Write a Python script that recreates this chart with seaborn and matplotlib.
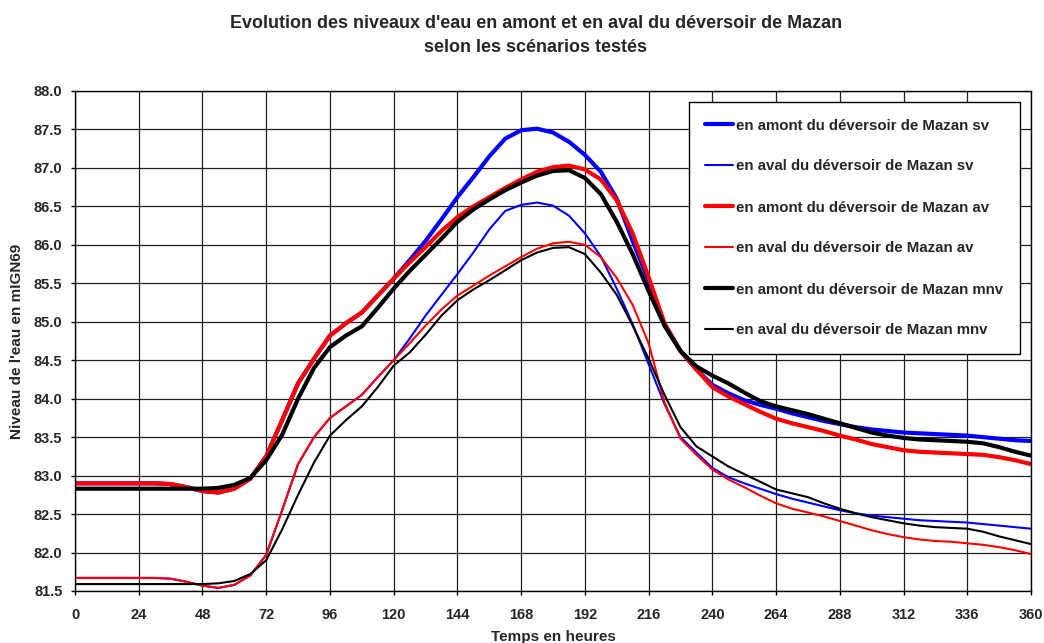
import numpy as np
import pandas as pd
import matplotlib
matplotlib.use("Agg")
import matplotlib.pyplot as plt
import seaborn as sns

hours = list(range(0, 361, 6))

amont_sv = [82.90, 82.90, 82.90, 82.90, 82.90, 82.90, 82.89, 82.85, 82.80, 82.78,
            82.83, 82.96, 83.25, 83.72, 84.20, 84.52, 84.82, 84.98, 85.12, 85.34,
            85.56, 85.80, 86.05, 86.33, 86.62, 86.88, 87.15, 87.38, 87.49, 87.51,
            87.46, 87.34, 87.17, 86.95, 86.60, 86.05, 85.53, 84.95, 84.62, 84.38,
            84.18, 84.07, 83.98, 83.92, 83.87, 83.81, 83.76, 83.71, 83.67, 83.63,
            83.60, 83.58, 83.56, 83.55, 83.54, 83.53, 83.52, 83.50, 83.48, 83.46,
            83.45]

aval_sv = [81.67, 81.67, 81.67, 81.67, 81.67, 81.67, 81.66, 81.62, 81.57, 81.54,
           81.58, 81.70, 81.97, 82.55, 83.15, 83.50, 83.75, 83.90, 84.05, 84.28,
           84.50, 84.78, 85.08, 85.35, 85.62, 85.90, 86.20, 86.44, 86.52, 86.55,
           86.51, 86.38, 86.15, 85.85, 85.43, 84.97, 84.45, 83.93, 83.50, 83.30,
           83.10, 82.98, 82.90, 82.83, 82.76, 82.70, 82.65, 82.60, 82.55, 82.51,
           82.48, 82.46, 82.44, 82.42, 82.41, 82.40, 82.39, 82.37, 82.35, 82.33,
           82.31]

amont_av = [82.90, 82.90, 82.90, 82.90, 82.90, 82.90, 82.89, 82.85, 82.80, 82.78,
            82.83, 82.96, 83.25, 83.72, 84.20, 84.52, 84.82, 84.98, 85.12, 85.34,
            85.56, 85.77, 85.97, 86.18, 86.36, 86.50, 86.62, 86.74, 86.85, 86.95,
            87.01, 87.03, 86.98, 86.85, 86.58, 86.15, 85.58, 84.98, 84.62, 84.38,
            84.15, 84.03, 83.93, 83.83, 83.74, 83.68, 83.63, 83.58, 83.52, 83.47,
            83.41, 83.37, 83.33, 83.31, 83.30, 83.29, 83.28, 83.27, 83.24, 83.20,
            83.15]

aval_av = [81.67, 81.67, 81.67, 81.67, 81.67, 81.67, 81.66, 81.62, 81.57, 81.54,
           81.58, 81.70, 81.97, 82.55, 83.15, 83.50, 83.75, 83.90, 84.05, 84.28,
           84.50, 84.72, 84.95, 85.16, 85.34, 85.47, 85.60, 85.72, 85.84, 85.95,
           86.02, 86.04, 86.00, 85.84, 85.57, 85.22, 84.72, 83.95, 83.48, 83.27,
           83.08, 82.95, 82.85, 82.74, 82.64, 82.57, 82.52, 82.47, 82.41, 82.35,
           82.29, 82.24, 82.20, 82.17, 82.15, 82.14, 82.12, 82.10, 82.07, 82.03,
           81.98]

amont_mnv = [82.83, 82.83, 82.83, 82.83, 82.83, 82.83, 82.83, 82.83, 82.83, 82.84,
             82.88, 82.97, 83.20, 83.53, 84.00, 84.40, 84.67, 84.82, 84.94, 85.18,
             85.43, 85.66, 85.87, 86.08, 86.30, 86.46, 86.59, 86.71, 86.81, 86.90,
             86.96, 86.97, 86.87, 86.66, 86.30, 85.88, 85.40, 84.95, 84.62, 84.42,
             84.30, 84.20, 84.08, 83.97, 83.90, 83.85, 83.80, 83.74, 83.68, 83.62,
             83.56, 83.52, 83.49, 83.47, 83.46, 83.45, 83.44, 83.42, 83.37, 83.31,
             83.26]

aval_mnv = [81.59, 81.59, 81.59, 81.59, 81.59, 81.59, 81.59, 81.59, 81.59, 81.60,
            81.63, 81.72, 81.90, 82.30, 82.75, 83.17, 83.52, 83.72, 83.90, 84.15,
            84.43, 84.60, 84.83, 85.08, 85.28, 85.42, 85.54, 85.67, 85.80, 85.90,
            85.96, 85.97, 85.88, 85.64, 85.35, 84.95, 84.52, 84.05, 83.63, 83.38,
            83.25, 83.12, 83.02, 82.92, 82.82, 82.77, 82.72, 82.64, 82.57, 82.51,
            82.46, 82.42, 82.38, 82.35, 82.33, 82.32, 82.31, 82.27, 82.21, 82.16,
            82.11]

labels = ["en amont du déversoir de Mazan sv",
          "en aval du déversoir de Mazan sv",
          "en amont du déversoir de Mazan av",
          "en aval du déversoir de Mazan av",
          "en amont du déversoir de Mazan mnv",
          "en aval du déversoir de Mazan mnv"]
series = [amont_sv, aval_sv, amont_av, aval_av, amont_mnv, aval_mnv]
colors = ["#0000FF", "#0000FF", "#FF0000", "#FF0000", "#000000", "#000000"]
widths = [3.0, 1.5, 3.0, 1.5, 3.0, 1.5]

x_ticks = list(range(0, 361, 24))
y_ticks = [81.5 + 0.5 * i for i in range(14)]

sns.set_style("white")
plt.rcParams["font.family"] = ["Liberation Sans", "DejaVu Sans"]
plt.rcParams["font.weight"] = "bold"

fig = plt.figure(figsize=(10.44, 6.43), dpi=100)
ax = fig.add_axes([75 / 1044, 1 - 591 / 643, (1031 - 75) / 1044, (591 - 91) / 643])

for lab, vals, c, w in zip(labels, series, colors, widths):
    df = pd.DataFrame({"h": hours, "v": vals})
    sns.lineplot(data=df, x="h", y="v", ax=ax, color=c, linewidth=w, label=lab,
                 solid_joinstyle="round", solid_capstyle="round")

ax.set_xlim(0, 360)
ax.set_ylim(81.5, 88.0)
ax.set_xticks(x_ticks)
ax.set_yticks(y_ticks)
ax.set_xticklabels([str(t) for t in x_ticks], fontsize=10.5, fontweight="bold")
ax.set_yticklabels([f"{t:.1f}" for t in y_ticks], fontsize=10.5, fontweight="bold")
ax.tick_params(axis="x", direction="out", length=3, width=1, color="black",
               bottom=True, pad=9)
ax.tick_params(axis="y", direction="out", length=3, width=1, color="black",
               left=True, pad=6)
ax.grid(True, color="#202020", linewidth=0.9)
ax.set_axisbelow(True)
for s in ax.spines.values():
    s.set_color("black")
    s.set_linewidth(1)

ax.set_xlabel("Temps en heures", fontsize=11, fontweight="bold", labelpad=6)
ax.set_ylabel("Niveau de l'eau en mIGN69", fontsize=11, fontweight="bold", labelpad=7)

fig.text(536 / 1044, 1 - 24 / 643, "Evolution des niveaux d'eau en amont et en aval du déversoir de Mazan",
         ha="center", va="center", fontsize=12.9, fontweight="bold")
fig.text(536 / 1044, 1 - 48 / 643, "selon les scénarios testés",
         ha="center", va="center", fontsize=12.9, fontweight="bold")

leg = ax.legend(loc="upper left", bbox_to_anchor=(0.642, 0.978), frameon=True,
                fancybox=False, framealpha=1, edgecolor="black",
                prop={"size": 10.8, "weight": "bold"}, handlelength=1.85,
                handletextpad=0.2, labelspacing=1.8, borderpad=1.1, borderaxespad=0)
leg.get_frame().set_linewidth(1)

fig.savefig("out.png", dpi=100)
